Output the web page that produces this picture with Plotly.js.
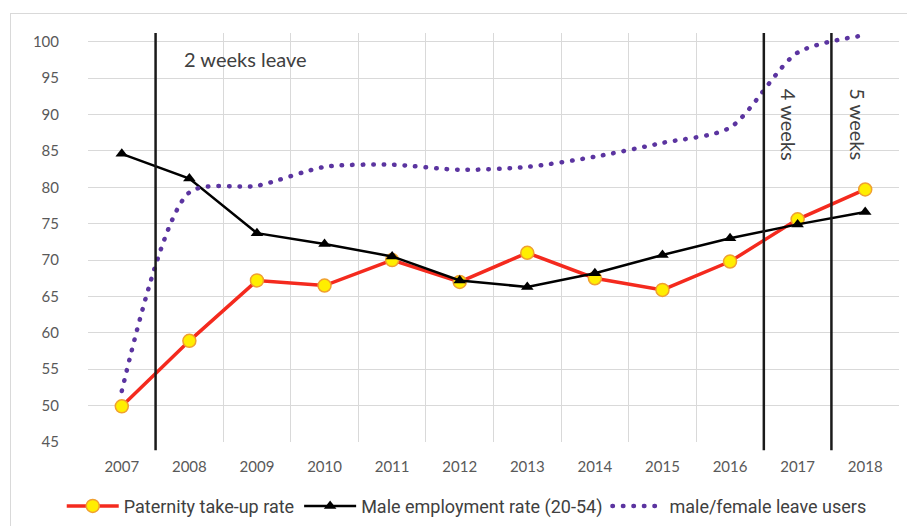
<!DOCTYPE html>
<html>
<head>
<meta charset="utf-8">
<script src="https://cdn.plot.ly/plotly-3.0.1.min.js"></script>
<style>
  html, body { margin: 0; padding: 0; background: #fff; }
  #frame { position: absolute; left: 10px; top: 13px; width: 910px; height: 530px; border: 1px solid #d9d9d9; box-sizing: border-box; }
  #chart { position: absolute; left: 0; top: 0; width: 907px; height: 526px; }
</style>
</head>
<body>
<div id="frame"></div>
<div id="chart"></div>
<script>
const years = ["2007","2008","2009","2010","2011","2012","2013","2014","2015","2016","2017","2018"];
const paternityTakeUp = [49.9, 58.9, 67.2, 66.5, 70.0, 67.0, 71.0, 67.5, 65.9, 69.8, 75.6, 79.7];
const maleEmployment = [84.6, 81.2, 73.7, 72.2, 70.5, 67.2, 66.3, 68.2, 70.7, 73.0, 74.9, 76.6];
const leaveUsers = [52.0, 79.3, 80.2, 82.8, 83.1, 82.4, 82.8, 84.2, 86.1, 88.2, 98.5, 100.9];
const seriesNames = ["Paternity take-up rate", "Male employment rate (20-54)", "male/female leave users"];
const policyLines = [0.5, 9.5, 10.5];
const policyLabels = ["2 weeks leave", "4 weeks", "5 weeks"];

const tickFont = { family: "Lato, 'Open Sans', sans-serif", size: 15, color: "#595959" };
const noteFont = { family: "Lato, 'Open Sans', sans-serif", size: 20, color: "#404040" };

const traces = [
  {
    x: years, y: paternityTakeUp, name: seriesNames[0], type: "scatter", mode: "lines+markers",
    line: { color: "#f42a1e", width: 3.5 },
    marker: { symbol: "circle", size: 13, color: "#ffee00", line: { color: "#f0a030", width: 1.5 } }
  },
  {
    x: years, y: maleEmployment, name: seriesNames[1], type: "scatter", mode: "lines+markers",
    line: { color: "#000000", width: 2.5 },
    marker: { symbol: "triangle-up", size: 11, color: "#000000" }
  },
  {
    x: years, y: leaveUsers, name: seriesNames[2], type: "scatter", mode: "lines",
    line: { color: "#5b34a0", width: 4.5, dash: "0.5px,10px", shape: "spline", smoothing: 0.75 }
  }
];

const shapes = policyLines.map(v => ({
  type: "line", xref: "x", yref: "paper", x0: v, x1: v, y0: -0.02, y1: 1.0,
  line: { color: "#1a1a1a", width: 2.5 }
}));

const annotations = [
  { text: policyLabels[0], xref: "x", yref: "y", x: 1.83, y: 97.6, xanchor: "center", yanchor: "middle",
    showarrow: false, font: noteFont },
  { text: policyLabels[1], xref: "x", yref: "y", x: 9.87, y: 88.6, textangle: 90, xanchor: "center", yanchor: "middle",
    showarrow: false, font: noteFont },
  { text: policyLabels[2], xref: "x", yref: "y", x: 10.9, y: 88.6, textangle: 90, xanchor: "center", yanchor: "middle",
    showarrow: false, font: noteFont }
];

const layout = {
  width: 907, height: 526,
  margin: { l: 88, r: 8, t: 33, b: 84, autoexpand: false },
  paper_bgcolor: "rgba(0,0,0,0)", plot_bgcolor: "rgba(0,0,0,0)",
  showlegend: true,
  legend: {
    orientation: "h", x: 0.467, xanchor: "center", y: -0.157, yanchor: "middle",
    font: { family: "'Liberation Sans Narrow', 'Roboto', sans-serif", size: 18, color: "#404040" },
    itemwidth: 52, tracegroupgap: 0, traceorder: "normal"
  },
  xaxis: {
    type: "category", range: [-0.5, 11.5], tickson: "boundaries",
    showgrid: true, gridcolor: "#d9d9d9", gridwidth: 1, zeroline: false, showline: false,
    ticks: "", tickfont: tickFont, ticklabelstandoff: 14, fixedrange: true
  },
  yaxis: {
    range: [45, 101.2], tickvals: [45,50,55,60,65,70,75,80,85,90,95,100],
    showgrid: true, gridcolor: "#d9d9d9", gridwidth: 1, zeroline: false, showline: false,
    ticks: "", tickfont: tickFont, ticklabelstandoff: 28, fixedrange: true
  },
  shapes: shapes,
  annotations: annotations
};

Plotly.newPlot("chart", traces, layout, { displayModeBar: false, staticPlot: true }).then(() => {
  document.querySelectorAll(".scatterlayer .trace:nth-child(3) path.js-line, .legend .traces:nth-child(3) path.js-line").forEach(p => {
    p.style.strokeLinecap = "round";
  });
});
</script>
</body>
</html>
